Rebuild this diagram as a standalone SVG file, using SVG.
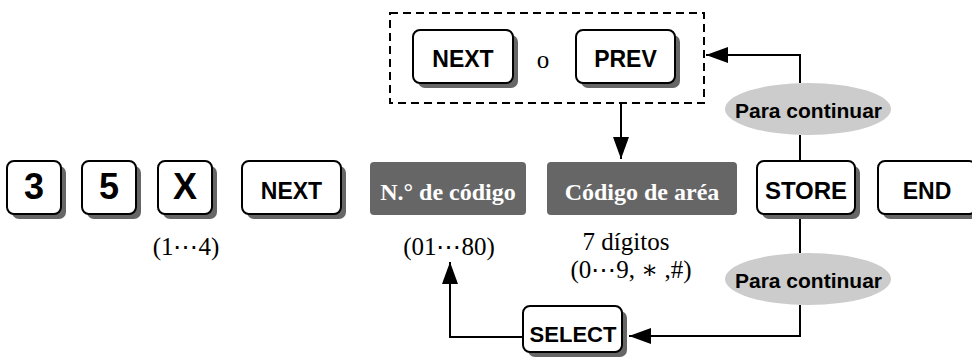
<svg xmlns="http://www.w3.org/2000/svg" width="972" height="358" viewBox="0 0 972 358">
<style>
.sh{fill:#666666}
.key{fill:#ffffff;stroke:#000000;stroke-width:2}
.kt{font-family:"Liberation Sans",Arial,sans-serif;font-weight:bold;fill:#000000;text-anchor:middle}
.gray{fill:#666666}
.gt{font-family:"Liberation Serif","Times New Roman",serif;font-weight:bold;fill:#ffffff;text-anchor:middle;font-size:24px}
.lbl{font-family:"Liberation Serif","Times New Roman","DejaVu Serif",serif;fill:#000000;text-anchor:middle;font-size:25px}
.ell{fill:#cccccc}
.et{font-family:"Liberation Sans",Arial,sans-serif;font-weight:bold;fill:#000000;text-anchor:middle;font-size:21px}
.ln{fill:none;stroke:#000000;stroke-width:2}
</style>
<defs>
<marker id="ah" viewBox="0 0 22 16" refX="22" refY="8" markerWidth="22" markerHeight="16" markerUnits="userSpaceOnUse" orient="auto">
<path d="M0,0 L22,8 L0,16 Z" fill="#000000"/>
</marker>
</defs>

<g id="connectors">
<polyline class="ln" points="621,103 621,159" marker-end="url(#ah)"/>
<polyline class="ln" points="800,83 800,55 706,55" marker-end="url(#ah)"/>
<line class="ln" x1="800" y1="135" x2="800" y2="161"/>
<line class="ln" x1="800" y1="214" x2="800" y2="253"/>
<polyline class="ln" points="800,305 800,336 629,336" marker-end="url(#ah)"/>
<polyline class="ln" points="523,337 450,337 450,262" marker-end="url(#ah)"/>
</g>

<g id="group-box">
<rect x="390" y="13" width="314" height="90" fill="none" stroke="#000000" stroke-width="2" stroke-dasharray="8,5"/>
</g>

<g id="key-next-top">
<rect class="sh" x="418" y="35" width="100" height="53" rx="7"/>
<rect class="key" x="413" y="30" width="100" height="53" rx="7"/>
<text class="kt" x="463" y="67" font-size="23">NEXT</text>
</g>
<g id="text-o">
<text class="lbl" x="543" y="68" font-size="22">o</text>
</g>
<g id="key-prev">
<rect class="sh" x="581" y="35" width="99" height="53" rx="7"/>
<rect class="key" x="576" y="30" width="99" height="53" rx="7"/>
<text class="kt" x="625.5" y="67" font-size="23">PREV</text>
</g>

<g id="key-3">
<rect class="sh" x="12" y="166" width="54" height="53" rx="7"/>
<rect class="key" x="7" y="161" width="54" height="53" rx="7"/>
<text class="kt" x="34" y="199" font-size="36">3</text>
</g>
<g id="key-5">
<rect class="sh" x="87" y="166" width="54" height="53" rx="7"/>
<rect class="key" x="82" y="161" width="54" height="53" rx="7"/>
<text class="kt" x="109" y="199" font-size="36">5</text>
</g>
<g id="key-x">
<rect class="sh" x="163" y="166" width="54" height="53" rx="7"/>
<rect class="key" x="158" y="161" width="54" height="53" rx="7"/>
<text class="kt" x="185" y="199" font-size="36">X</text>
</g>
<g id="label-1-4">
<text class="lbl" x="186" y="255">(1⋯4)</text>
</g>

<g id="key-next">
<rect class="sh" x="247" y="166" width="99" height="53" rx="7"/>
<rect class="key" x="242" y="161" width="99" height="53" rx="7"/>
<text class="kt" x="291.5" y="199" font-size="23">NEXT</text>
</g>

<g id="box-codigo">
<rect class="gray" x="370" y="162" width="156" height="53" rx="4"/>
<text class="gt" x="448" y="200">N.° de código</text>
<text class="lbl" x="449" y="255">(01⋯80)</text>
</g>

<g id="box-area">
<rect class="gray" x="547" y="162" width="190" height="53" rx="4"/>
<text class="gt" x="642" y="200">Código de aréa</text>
<text class="lbl" x="626" y="250" font-size="24">7 dígitos</text>
<text class="lbl" x="631" y="278" font-size="23">(0⋯9, ∗ ,#)</text>
</g>

<g id="key-store">
<rect class="sh" x="762" y="166" width="98" height="53" rx="7"/>
<rect class="key" x="757" y="161" width="98" height="53" rx="7"/>
<text class="kt" x="806" y="199" font-size="24">STORE</text>
</g>

<g id="key-end">
<rect class="sh" x="883" y="166" width="98" height="53" rx="7"/>
<rect class="key" x="878" y="161" width="98" height="53" rx="7"/>
<text class="kt" x="927" y="199" font-size="23">END</text>
</g>

<g id="ellipse-top">
<ellipse class="ell" cx="808" cy="109" rx="83" ry="26"/>
<text class="et" x="808.5" y="118">Para continuar</text>
</g>

<g id="ellipse-bottom">
<ellipse class="ell" cx="808" cy="279" rx="83" ry="26"/>
<text class="et" x="808.5" y="288">Para continuar</text>
</g>

<g id="key-select">
<rect class="sh" x="528" y="311" width="99" height="46" rx="7"/>
<rect class="key" x="523" y="306" width="99" height="46" rx="7"/>
<text class="kt" x="573" y="342" font-size="22">SELECT</text>
</g>
</svg>
